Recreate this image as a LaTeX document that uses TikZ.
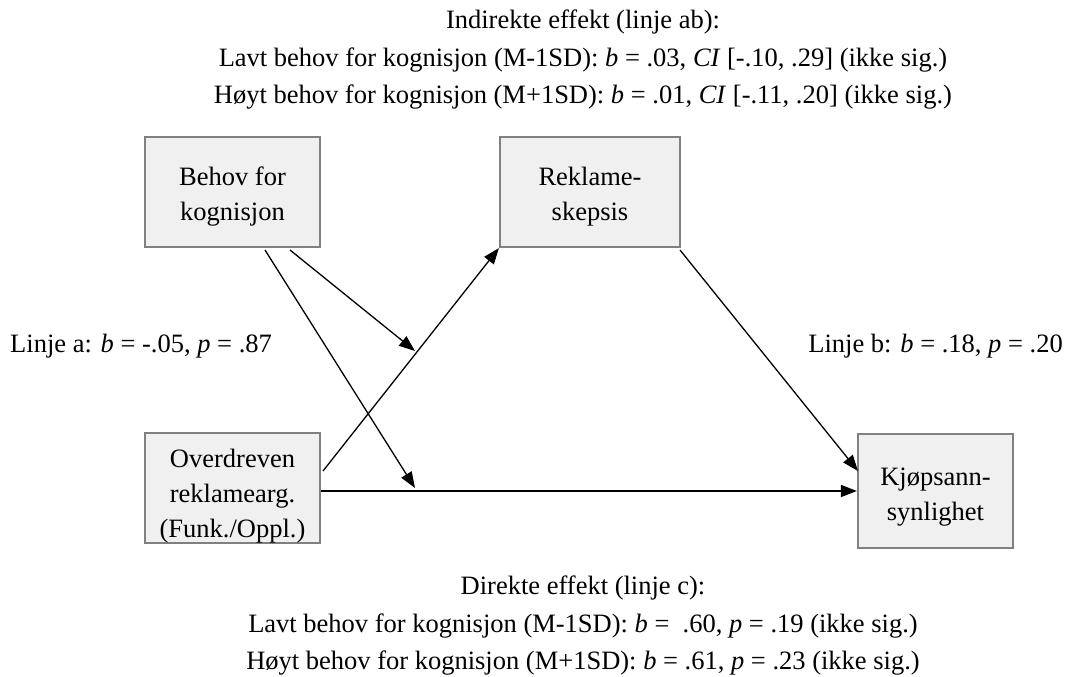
\documentclass[tikz,border=0pt]{standalone}
\usepackage{fontspec}
\setmainfont{Liberation Serif}
\usetikzlibrary{arrows.meta}
\newcommand\dropby[1]{\rule{0pt}{\dimexpr 18.5pt+#1pt+#1pt\relax}}
\begin{document}
\begin{tikzpicture}[x=1pt,y=-1pt,
  box/.style={draw=black!50,line width=2.2pt,fill=black!6,align=center,inner sep=0pt,font=\fontsize{26.5}{35}\selectfont},
  lbl/.style={align=center,inner sep=0pt,font=\fontsize{26.5}{37.5}\selectfont},
  arr/.style={-{Triangle[length=16pt,width=12pt]},line width=1.3pt}]
\useasboundingbox (0,0) rectangle (1066,677);
\node[box,minimum width=175pt,minimum height=110pt] (behov) at (232.5,192) {\dropby{5}Behov for\\kognisjon};
\node[box,minimum width=180pt,minimum height=110pt] (rek) at (590,192) {\dropby{5}Reklame-\\skepsis};
\node[box,minimum width=175pt,minimum height=110pt] (over) at (232.5,488) {\dropby{8}Overdreven\\reklamearg.\\(Funk./Oppl.)};
\node[box,minimum width=155pt,minimum height=114pt] (kjop) at (935.5,491) {\dropby{6}Kjøpsann-\\synlighet};
\node[lbl] (top) at (583,60) {Indirekte effekt (linje ab):\\Lavt behov for kognisjon (M-1SD): \textit{b} = .03, \textit{CI} [-.10, .29] (ikke sig.)\\Høyt behov for kognisjon (M+1SD): \textit{b} = .01, \textit{CI} [-.11, .20] (ikke sig.)};
\node[lbl] (bot) at (583,626) {Direkte effekt (linje c):\\Lavt behov for kognisjon (M-1SD): \textit{b} = \ .60, \textit{p} = .19 (ikke sig.)\\Høyt behov for kognisjon (M+1SD): \textit{b} = .61, \textit{p} = .23 (ikke sig.)};
\node[lbl,anchor=west] (la) at (10,346) {Linje a: \textit{b} = -.05, \textit{p} = .87};
\node[lbl,anchor=east] (lb) at (1063,346) {Linje b: \textit{b} = .18, \textit{p} = .20};
\coordinate (m1) at (415,351);
\coordinate (m2) at (415,488);
\coordinate (b1) at (290,250);
\coordinate (b2) at (265,250);
\coordinate (o1) at (323,471);
\coordinate (r1) at (680,250);
\coordinate (k1) at (858,471);
\draw[arr] (over.east |- kjop.west) -- (kjop.west);
\draw[arr] (o1) -- (rek.south west);
\draw[arr] (r1) -- (k1);
\draw[arr] (b1) -- (m1);
\draw[arr] (b2) -- (m2);
\end{tikzpicture}
\end{document}
